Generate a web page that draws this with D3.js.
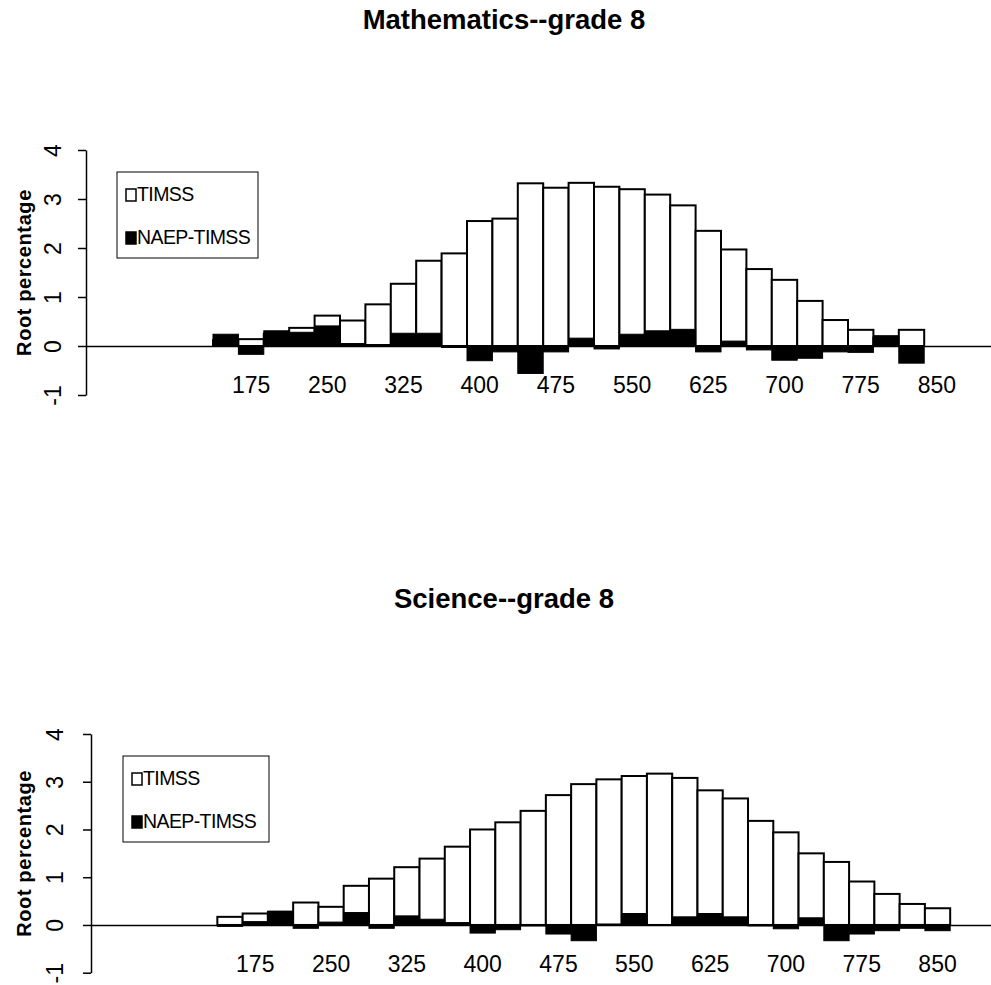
<!DOCTYPE html>
<html>
<head>
<meta charset="utf-8">
<script src="https://cdn.jsdelivr.net/npm/d3@7"></script>
<style>
  body { margin: 0; background: #fff; }
  svg { display: block; font-family: "Liberation Sans", Arial, sans-serif; }
</style>
</head>
<body>
<svg id="chart" width="991" height="985"></svg>
<script>
// score bins on the category axis (only some carry data)
const bins = [25, 50, 75, 100, 125, 150, 175, 200, 225, 250, 275, 300, 325, 350, 375, 400, 425, 450,
  475, 500, 525, 550, 575, 600, 625, 650, 675, 700, 725, 750, 775, 800, 825, 850, 875, 900];
const tickLabels = [175, 250, 325, 400, 475, 550, 625, 700, 775, 850];
const yTicks = [-1, 0, 1, 2, 3, 4];

const mathBins = [150, 175, 200, 225, 250, 275, 300, 325, 350, 375, 400, 425, 450, 475, 500, 525,
  550, 575, 600, 625, 650, 675, 700, 725, 750, 775, 800, 825];
const mathTimss = [0.12, 0.14, 0.25, 0.37, 0.62, 0.52, 0.85, 1.27, 1.74, 1.89, 2.55, 2.60, 3.32, 3.23,
  3.33, 3.25, 3.20, 3.09, 2.87, 2.35, 1.97, 1.57, 1.35, 0.92, 0.53, 0.33, 0.17, 0.33];
const mathDiff = [0.24, -0.17, 0.31, 0.28, 0.41, 0.05, 0.03, 0.26, 0.26, -0.03, -0.30, -0.12, -0.56, -0.12,
  0.16, -0.06, 0.24, 0.31, 0.34, -0.12, 0.10, -0.08, -0.29, -0.25, -0.12, -0.13, 0.21, -0.35];

const sciBins = [150, 175, 200, 225, 250, 275, 300, 325, 350, 375, 400, 425, 450, 475, 500, 525,
  550, 575, 600, 625, 650, 675, 700, 725, 750, 775, 800, 825, 850];
const sciTimss = [0.17, 0.24, 0.27, 0.47, 0.38, 0.82, 0.97, 1.21, 1.39, 1.64, 2.00, 2.15, 2.39, 2.72,
  2.95, 3.05, 3.12, 3.17, 3.08, 2.82, 2.65, 2.18, 1.94, 1.50, 1.32, 0.91, 0.65, 0.44, 0.35];
const sciDiff = [-0.03, 0.07, 0.29, -0.07, 0.06, 0.26, -0.07, 0.19, 0.12, 0.05, -0.17, -0.10, -0.02, -0.19,
  -0.33, 0.02, 0.24, 0.00, 0.17, 0.24, 0.17, -0.02, -0.08, 0.15, -0.33, -0.19, -0.12, -0.07, -0.12];

const svg = d3.select("#chart");

function drawPanel(p) {
  const x = d3.scaleBand().domain(bins).range([p.left, p.left + bins.length * p.step]);
  const y = d3.scaleLinear().domain([-1, 4]).range([p.bottom, p.top]);
  const g = svg.append("g");

  g.append("text")
    .attr("x", 504).attr("y", p.titleY)
    .attr("text-anchor", "middle")
    .attr("font-size", 27.5).attr("font-weight", "bold")
    .text(p.title);

  const timss = p.bins.map((b, i) => ({ b, v: p.timss[i] }));
  const diff = p.bins.map((b, i) => ({ b, v: p.diff[i] }));

  g.selectAll(".timss")
    .data(timss)
    .enter()
    .append("rect")
    .attr("class", "timss")
    .attr("x", (d) => x(d.b))
    .attr("width", x.bandwidth())
    .attr("y", (d) => y(Math.max(0, d.v)))
    .attr("height", (d) => Math.abs(y(d.v) - y(0)))
    .attr("fill", "#fff")
    .attr("stroke", "#000")
    .attr("stroke-width", 2);

  g.selectAll(".diff")
    .data(diff)
    .enter()
    .append("rect")
    .attr("class", "diff")
    .attr("x", (d) => x(d.b))
    .attr("width", x.bandwidth())
    .attr("y", (d) => y(Math.max(0, d.v)))
    .attr("height", (d) => Math.abs(y(d.v) - y(0)))
    .attr("fill", "#000")
    .attr("stroke", "#000")
    .attr("stroke-width", 1);

  // category axis sits on the zero line
  const xAxis = g.append("g")
    .attr("transform", `translate(0,${y(0)})`)
    .call(d3.axisBottom(x).tickValues(tickLabels).tickSize(0).tickSizeOuter(0).tickPadding(31));
  xAxis.select(".domain").attr("stroke-width", 1.5);
  xAxis.selectAll("text")
    .attr("font-size", 23)
    .attr("font-family", "Liberation Sans, Arial, sans-serif")
    .attr("fill", "#000");

  const yAxis = g.append("g")
    .attr("transform", `translate(${p.left},0)`)
    .call(d3.axisLeft(y).tickValues(yTicks).tickFormat((d) => String(d)).tickSize(8).tickSizeOuter(0));
  yAxis.selectAll("line, path").attr("stroke-width", 1.5);
  yAxis.selectAll("text")
    .attr("x", 0).attr("dy", 0)
    .attr("text-anchor", "middle")
    .attr("transform", `translate(${p.tickLabelX - p.left},0) rotate(-90)`)
    .attr("font-size", 23)
    .attr("font-family", "Liberation Sans, Arial, sans-serif")
    .attr("fill", "#000");

  g.append("text")
    .attr("transform", `translate(31,${(p.top + p.bottom) / 2}) rotate(-90)`)
    .attr("text-anchor", "middle")
    .attr("font-size", 20).attr("font-weight", "bold")
    .attr("letter-spacing", 0.6)
    .text("Root percentage");

  // legend
  const lg = g.append("g").attr("transform", `translate(${p.legend[0]},${p.legend[1]})`);
  lg.append("rect")
    .attr("width", p.legend[2]).attr("height", 86)
    .attr("fill", "#fff").attr("stroke", "#000").attr("stroke-width", 1);
  const items = [["TIMSS", "#fff", 29], ["NAEP-TIMSS", "#000", 72]];
  items.forEach(([label, fill, ty]) => {
    lg.append("rect")
      .attr("x", 9).attr("y", ty - 12)
      .attr("width", 10).attr("height", 12)
      .attr("fill", fill).attr("stroke", "#000").attr("stroke-width", 1.5);
    lg.append("text")
      .attr("x", 20).attr("y", ty)
      .attr("font-size", 19.5)
      .attr("letter-spacing", -0.6)
      .text(label);
  });
}

drawPanel({
  title: "Mathematics--grade 8", titleY: 29,
  left: 86, step: 25.4, top: 150, bottom: 395, tickLabelX: 61,
  legend: [117, 172, 141],
  bins: mathBins, timss: mathTimss, diff: mathDiff
});

drawPanel({
  title: "Science--grade 8", titleY: 608,
  left: 91, step: 25.27, top: 734, bottom: 972.7, tickLabelX: 63,
  legend: [123, 756, 146],
  bins: sciBins, timss: sciTimss, diff: sciDiff
});
</script>
</body>
</html>
